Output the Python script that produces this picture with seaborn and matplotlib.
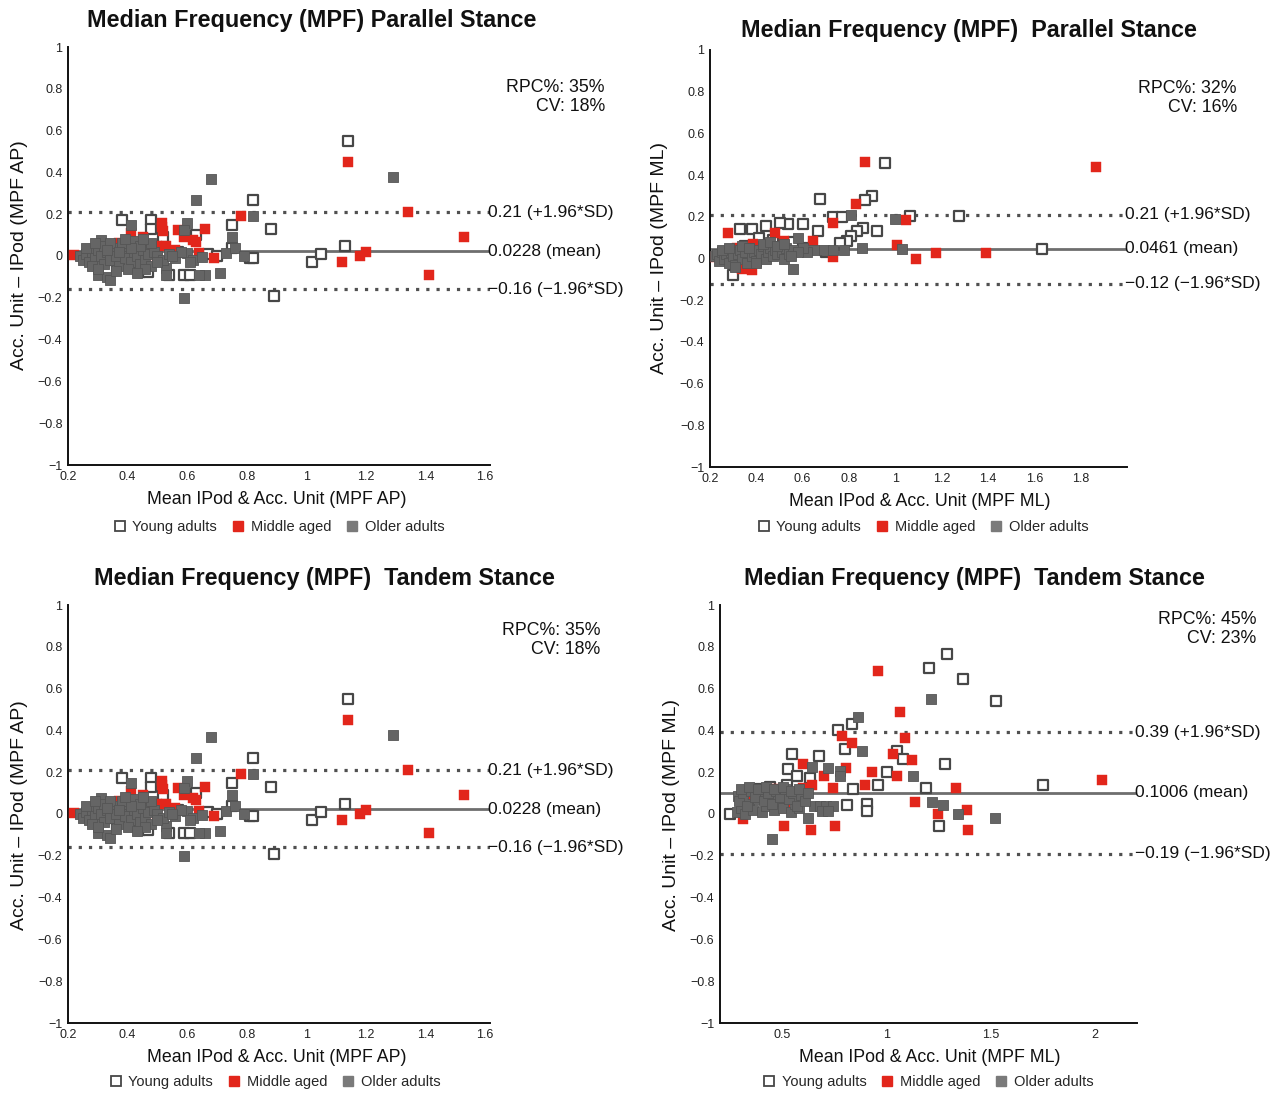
import matplotlib
matplotlib.use("Agg")
import matplotlib.pyplot as plt
import seaborn as sns
import pandas as pd
from matplotlib.lines import Line2D

sns.set_theme(style="white")
plt.rcParams['font.family'] = ['Liberation Sans', 'DejaVu Sans']

# ---------------- data: AP (parallel & tandem panels show the same data) ----------------
young_ap_x = [1.14, 1.13, 0.82, 0.88, 0.89, 1.02, 1.05, 0.81, 0.82, 0.75,
              0.75, 0.67, 0.59, 0.61, 0.54, 0.38, 0.48, 0.48, 0.44, 0.47,
              0.33, 0.36, 0.29, 0.26, 0.31, 0.40, 0.52, 0.57, 0.63, 0.70]
young_ap_y = [0.55, 0.05, 0.27, 0.13, -0.19, -0.03, 0.01, -0.01, -0.01, 0.15,
              0.04, 0.01, -0.09, -0.09, -0.09, 0.17, 0.17, 0.13, -0.075, -0.075,
              -0.067, -0.02, 0.0, -0.01, 0.03, 0.04, 0.09, 0.02, 0.10, 0.0]
red_ap_x = [1.14, 1.34, 1.53, 1.41, 1.12, 1.18, 1.20, 0.78, 0.66, 0.69,
            0.64, 0.57, 0.59, 0.62, 0.63, 0.515, 0.515, 0.52, 0.50, 0.53,
            0.50, 0.41, 0.22, 0.45, 0.37, 0.43, 0.47, 0.56]
red_ap_y = [0.45, 0.21, 0.09, -0.09, -0.03, 0.0, 0.02, 0.19, 0.13, -0.01,
            0.015, 0.125, 0.09, 0.077, 0.067, 0.16, 0.14, 0.12, 0.05, 0.05,
            0.0, 0.11, 0.005, 0.09, 0.06, 0.04, 0.03, 0.03]
gray_ap_x = [0.68, 0.63, 0.82, 1.29, 0.59, 0.75, 0.71, 0.66, 0.64, 0.60,
             0.59, 0.53, 0.53, 0.42, 0.31, 0.30, 0.33, 0.34, 0.60, 0.62,
             0.65, 0.73, 0.76, 0.79, 0.41,
             0.24, 0.25, 0.26, 0.27, 0.28, 0.29, 0.30, 0.31, 0.32, 0.33,
             0.34, 0.35, 0.36, 0.37, 0.38, 0.39, 0.40, 0.41, 0.42, 0.43,
             0.44, 0.45, 0.46, 0.47, 0.48, 0.49, 0.50, 0.52, 0.54, 0.56,
             0.58, 0.61,
             0.26, 0.28, 0.30, 0.32, 0.34, 0.36, 0.38, 0.40, 0.42, 0.44,
             0.46, 0.48, 0.50, 0.55,
             0.29, 0.33, 0.37, 0.41, 0.45, 0.39, 0.43]
gray_ap_y = [0.37, 0.27, 0.19, 0.38, -0.20, 0.09, -0.08, -0.09, -0.09, 0.16,
             0.125, -0.057, -0.09, 0.067, 0.077, -0.09, -0.10, -0.115, 0.015, -0.02,
             -0.005, 0.015, 0.04, 0.0, 0.15,
             0.0, -0.02, 0.01, -0.03, 0.02, -0.01, 0.03, 0.0, -0.04, 0.02,
             -0.02, 0.04, 0.0, -0.05, 0.03, -0.01, 0.05, -0.03, 0.02, 0.0,
             -0.04, 0.03, -0.02, 0.01, -0.05, 0.02, 0.0, -0.02, 0.01, -0.01,
             0.02, -0.03,
             0.04, -0.05, -0.06, 0.05, 0.06, -0.07, 0.06, -0.06, 0.07, 0.05,
             -0.06, 0.06, -0.03, 0.0,
             0.06, 0.03, 0.02, 0.04, 0.08, 0.08, -0.08]

# ---------------- data: ML parallel ----------------
young_ml_x = [0.955, 0.90, 0.87, 0.675, 1.065, 1.275, 1.635, 0.92, 0.86, 0.835,
              0.81, 0.79, 0.76, 0.73, 0.77, 0.666, 0.60, 0.537, 0.50, 0.44,
              0.38, 0.33, 0.30, 0.41, 0.47, 0.56, 0.35, 0.62, 0.70]
young_ml_y = [0.456, 0.30, 0.28, 0.287, 0.203, 0.203, 0.046, 0.13, 0.148, 0.134,
              0.11, 0.086, 0.072, 0.20, 0.20, 0.134, 0.167, 0.167, 0.17, 0.158,
              0.143, 0.143, -0.08, 0.10, 0.09, 0.08, 0.06, 0.05, 0.03]
red_ml_x = [0.867, 1.867, 0.83, 0.73, 1.048, 1.008, 1.088, 1.175, 1.393, 0.73,
            0.645, 0.48, 0.52, 0.277, 0.386, 0.38, 0.34, 0.205, 0.436, 0.317,
            0.29, 0.45, 0.56]
red_ml_y = [0.463, 0.44, 0.26, 0.17, 0.183, 0.066, 0.0, 0.025, 0.025, 0.005,
            0.086, 0.124, 0.086, 0.124, 0.07, -0.057, -0.048, 0.005, 0.063, 0.05,
            0.02, 0.04, 0.03]
gray_ml_x = [1.0, 0.81, 1.03, 0.856, 0.558, 0.578, 0.65, 0.69, 0.73, 0.78, 0.62, 0.60,
             0.22, 0.23, 0.24, 0.25, 0.26, 0.27, 0.28, 0.29, 0.30, 0.31,
             0.32, 0.33, 0.34, 0.35, 0.36, 0.37, 0.38, 0.39, 0.40, 0.41,
             0.42, 0.43, 0.44, 0.45, 0.46, 0.47, 0.48, 0.49, 0.50, 0.51,
             0.52, 0.53, 0.54, 0.56, 0.58,
             0.25, 0.28, 0.31, 0.34, 0.37, 0.40, 0.43, 0.46, 0.49, 0.52, 0.55]
gray_ml_y = [0.19, 0.21, 0.046, 0.05, -0.048, 0.10, 0.04, 0.04, 0.04, 0.04, 0.03, 0.05,
             0.01, 0.02, -0.01, 0.03, 0.0, 0.02, -0.02, 0.03, 0.01, -0.03,
             0.02, 0.04, 0.0, 0.03, -0.02, 0.05, 0.01, 0.03, -0.01, 0.04,
             0.02, 0.06, 0.0, 0.03, 0.05, 0.01, 0.04, 0.02, 0.06, 0.03,
             0.0, 0.05, 0.02, 0.04, 0.03,
             0.04, 0.05, -0.04, 0.06, 0.05, -0.02, 0.07, 0.08, 0.06, 0.07, 0.01]

# ---------------- data: ML tandem ----------------
young_tml_x = [1.29, 1.20, 1.365, 1.524, 1.28, 1.75, 1.19, 1.25, 0.833, 0.766,
               0.80, 1.05, 1.077, 1.0, 0.96, 0.84, 0.81, 0.905, 0.905, 0.545,
               0.675, 0.526, 0.57, 0.63, 0.25, 0.38, 0.44, 0.52, 0.60]
young_tml_y = [0.766, 0.70, 0.645, 0.54, 0.24, 0.14, 0.125, -0.057, 0.43, 0.40,
               0.31, 0.30, 0.263, 0.20, 0.14, 0.12, 0.043, 0.048, 0.014, 0.287,
               0.277, 0.215, 0.18, 0.17, 0.0, 0.12, 0.13, 0.14, 0.10]
red_tml_x = [0.96, 1.065, 1.087, 0.785, 0.833, 1.03, 1.12, 0.60, 0.70, 0.805,
             0.93, 1.05, 0.60, 0.64, 0.74, 0.895, 1.135, 1.33, 1.385, 1.39,
             1.245, 2.03, 0.507, 0.636, 0.75, 0.31, 0.36, 0.51, 0.47]
red_tml_y = [0.684, 0.49, 0.364, 0.373, 0.34, 0.287, 0.258, 0.24, 0.18, 0.22,
             0.2, 0.18, 0.125, 0.14, 0.125, 0.14, 0.057, 0.125, 0.02, -0.077,
             0.0, 0.163, -0.057, -0.077, -0.057, -0.024, 0.077, 0.03, 0.12]
gray_tml_x = [1.21, 0.86, 0.88, 0.64, 0.718, 0.776, 0.776, 1.125, 1.217, 1.27,
              1.34, 1.52, 0.45, 0.286, 0.65, 0.68, 0.71, 0.74, 0.69, 0.72,
              0.28, 0.30, 0.32, 0.34, 0.36, 0.38, 0.40, 0.42, 0.44, 0.46,
              0.48, 0.50, 0.52, 0.54, 0.56, 0.58, 0.60, 0.62,
              0.29, 0.31, 0.33, 0.35, 0.37, 0.39, 0.41, 0.43, 0.45, 0.47,
              0.49, 0.51, 0.53, 0.55, 0.57, 0.59, 0.61,
              0.30, 0.34, 0.38, 0.42, 0.46, 0.50, 0.54, 0.58, 0.62]
gray_tml_y = [0.55, 0.464, 0.30, 0.225, 0.22, 0.205, 0.18, 0.18, 0.057, 0.043,
              0.0, -0.02, -0.12, 0.086, 0.04, 0.04, 0.04, 0.04, 0.015, 0.015,
              0.01, 0.03, 0.0, 0.05, 0.02, 0.07, 0.01, 0.04, 0.08, 0.02,
              0.06, 0.03, 0.09, 0.01, 0.05, 0.03, 0.07, -0.02,
              0.06, 0.10, 0.04, 0.11, 0.08, 0.12, 0.06, 0.10, 0.05, 0.11,
              0.08, 0.12, 0.07, 0.10, 0.04, 0.09, 0.06,
              0.12, 0.13, 0.12, 0.13, 0.12, 0.13, 0.11, 0.12, 0.10]

# agreement statistics (mean, +1.96SD, -1.96SD) and labels
stats_ap = [0.0228, 0.21, -0.16]
labels_ap = ["0.0228 (mean)", "0.21 (+1.96*SD)", "\u22120.16 (\u22121.96*SD)"]
stats_ml = [0.0461, 0.21, -0.12]
labels_ml = ["0.0461 (mean)", "0.21 (+1.96*SD)", "\u22120.12 (\u22121.96*SD)"]
stats_tml = [0.1006, 0.39, -0.19]
labels_tml = ["0.1006 (mean)", "0.39 (+1.96*SD)", "\u22120.19 (\u22121.96*SD)"]

groups = ["Young adults", "Middle aged", "Older adults"]
W, H = 1286, 1093

def frame(group_names, xs, ys):
    rows = []
    for g, x, y in zip(group_names, xs, ys):
        rows.append(pd.DataFrame({"x": x, "y": y, "group": g}))
    return pd.concat(rows, ignore_index=True)

panels = [
    dict(rect=(68, 47, 490, 465), xlim=(0.2, 1.616),
         xticks=[0.2, 0.4, 0.6, 0.8, 1.0, 1.2, 1.4, 1.6],
         xtl=["0.2", "0.4", "0.6", "0.8", "1", "1.2", "1.4", "1.6"],
         data=frame(groups, [young_ap_x, red_ap_x, gray_ap_x], [young_ap_y, red_ap_y, gray_ap_y]),
         stats=stats_ap, labels=labels_ap, rpc="RPC%: 35%\nCV: 18%", rpcpos=(605, 97),
         title="Median Frequency (MPF) Parallel Stance", tpos=(312, 21),
         ylab="Acc. Unit \u2013 IPod (MPF AP)", ylpos=(20, 255),
         xlab="Mean IPod & Acc. Unit (MPF AP)", xlpos=(277, 500), legpos=(279, 527)),
    dict(rect=(710, 50, 1127, 467), xlim=(0.2, 2.0),
         xticks=[0.2, 0.4, 0.6, 0.8, 1.0, 1.2, 1.4, 1.6, 1.8],
         xtl=["0.2", "0.4", "0.6", "0.8", "1", "1.2", "1.4", "1.6", "1.8"],
         data=frame(groups, [young_ml_x, red_ml_x, gray_ml_x], [young_ml_y, red_ml_y, gray_ml_y]),
         stats=stats_ml, labels=labels_ml, rpc="RPC%: 32%\nCV: 16%", rpcpos=(1237, 98),
         title="Median Frequency (MPF)  Parallel Stance", tpos=(969, 30),
         ylab="Acc. Unit \u2013 IPod (MPF ML)", ylpos=(660, 258),
         xlab="Mean IPod & Acc. Unit (MPF ML)", xlpos=(920, 502), legpos=(923, 527)),
    dict(rect=(68, 605, 490, 1023), xlim=(0.2, 1.616),
         xticks=[0.2, 0.4, 0.6, 0.8, 1.0, 1.2, 1.4, 1.6],
         xtl=["0.2", "0.4", "0.6", "0.8", "1", "1.2", "1.4", "1.6"],
         data=frame(groups, [young_ap_x, red_ap_x, gray_ap_x], [young_ap_y, red_ap_y, gray_ap_y]),
         stats=stats_ap, labels=labels_ap, rpc="RPC%: 35%\nCV: 18%", rpcpos=(600, 640),
         title="Median Frequency (MPF)  Tandem Stance", tpos=(324, 579),
         ylab="Acc. Unit \u2013 IPod (MPF AP)", ylpos=(20, 815),
         xlab="Mean IPod & Acc. Unit (MPF AP)", xlpos=(277, 1057), legpos=(275, 1082)),
    dict(rect=(720, 605, 1137, 1023), xlim=(0.2, 2.2),
         xticks=[0.5, 1.0, 1.5, 2.0], xtl=["0.5", "1", "1.5", "2"],
         data=frame(groups, [young_tml_x, red_tml_x, gray_tml_x], [young_tml_y, red_tml_y, gray_tml_y]),
         stats=stats_tml, labels=labels_tml, rpc="RPC%: 45%\nCV: 23%", rpcpos=(1256, 629),
         title="Median Frequency (MPF)  Tandem Stance", tpos=(974, 579),
         ylab="Acc. Unit \u2013 IPod (MPF ML)", ylpos=(672, 815),
         xlab="Mean IPod & Acc. Unit (MPF ML)", xlpos=(930, 1057), legpos=(928, 1082)),
]

RED = "#e2261b"
GRAY = "#656565"
styles = {
    "Young adults": dict(color="white", edgecolor="#474747", linewidth=1.6, zorder=3),
    "Middle aged": dict(color=RED, edgecolor=RED, linewidth=0.3, zorder=4),
    "Older adults": dict(color=GRAY, edgecolor="#555555", linewidth=0.6, zorder=5),
}

fig = plt.figure(figsize=(W / 100, H / 100), dpi=100)
fig.patch.set_facecolor("white")

for p in panels:
    l, t, r, b = p["rect"]
    ax = fig.add_axes([l / W, 1 - b / H, (r - l) / W, (b - t) / H])
    ax.set_facecolor("white")
    df = p["data"]
    for g in groups:
        sub = df[df["group"] == g]
        sns.scatterplot(data=sub, x="x", y="y", marker="s", s=56, ax=ax,
                        legend=False, **styles[g])
    mean, up, lo = p["stats"]
    ax.axhline(mean, color="#6e6e6e", lw=2.0, zorder=2)
    ax.axhline(up, color="#505050", lw=2.3, ls=(0, (1, 2.2)), zorder=2)
    ax.axhline(lo, color="#505050", lw=2.3, ls=(0, (1, 2.2)), zorder=2)
    trans = ax.get_yaxis_transform()
    for val, lab in zip(p["stats"], p["labels"]):
        ax.text(0.995, val, lab, transform=trans, ha="left", va="center",
                fontsize=12.5, color="#111111", clip_on=False)
    # RPC / CV
    rx, ry = p["rpcpos"]
    fig.text(rx / W, 1 - ry / H, p["rpc"], ha="right", va="center", fontsize=12.8,
             color="#111111", multialignment="right", linespacing=1.15)
    ax.set_xlim(*p["xlim"])
    ax.set_ylim(-1, 1)
    ax.set_xticks(p["xticks"])
    ax.set_xticklabels(p["xtl"])
    yt = [1, 0.8, 0.6, 0.4, 0.2, 0, -0.2, -0.4, -0.6, -0.8, -1]
    ax.set_yticks(yt)
    ax.set_yticklabels(["1", "0.8", "0.6", "0.4", "0.2", "0", "\u22120.2", "\u22120.4",
                        "\u22120.6", "\u22120.8", "\u22121"])
    ax.tick_params(axis="both", length=0, labelsize=9, colors="#222222", pad=4)
    ax.set_xlabel("")
    ax.set_ylabel("")
    for s in ["top", "right"]:
        ax.spines[s].set_visible(False)
    for s in ["left", "bottom"]:
        ax.spines[s].set_color("#111111")
        ax.spines[s].set_linewidth(1.4)
    ax.grid(False)
    # titles and labels
    tx, ty = p["tpos"]
    fig.text(tx / W, 1 - ty / H, p["title"], ha="center", va="center",
             fontsize=16.8, fontweight="bold", color="#111111")
    yx, yy = p["ylpos"]
    fig.text(yx / W, 1 - yy / H, p["ylab"], ha="center", va="center",
             rotation=90, fontsize=14, color="#111111")
    xx, xy = p["xlpos"]
    fig.text(xx / W, 1 - xy / H, p["xlab"], ha="center", va="center",
             fontsize=12.8, color="#111111")
    handles = [
        Line2D([], [], ls="", marker="s", markersize=7, markerfacecolor="white",
               markeredgecolor="#474747", markeredgewidth=1.3),
        Line2D([], [], ls="", marker="s", markersize=7, markerfacecolor=RED,
               markeredgecolor=RED),
        Line2D([], [], ls="", marker="s", markersize=7, markerfacecolor="#7a7a7a",
               markeredgecolor="#7a7a7a"),
    ]
    lx, ly = p["legpos"]
    fig.legend(handles, groups, loc="center", bbox_to_anchor=(lx / W, 1 - ly / H),
               ncol=3, frameon=False, fontsize=10.5, handlelength=0.9,
               handletextpad=0.4, columnspacing=1.0, borderpad=0)

fig.savefig("out.png", dpi=100, facecolor="white")
